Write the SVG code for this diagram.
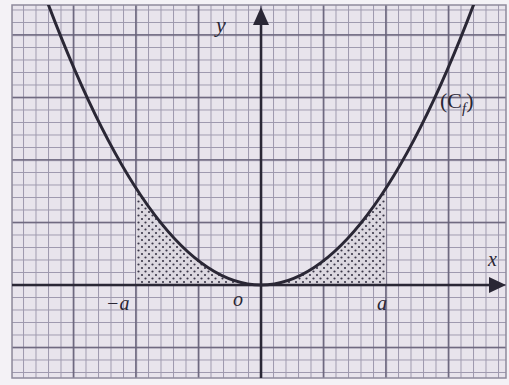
<svg xmlns="http://www.w3.org/2000/svg" width="509" height="385" viewBox="0 0 509 385">
<defs>
<style>
.minor{stroke:#9e99ae;stroke-width:1}
.major{stroke:#676279;stroke-width:1.6}
.axis{stroke:#2a2735;stroke-width:2.5;fill:none}
.curve{stroke:#2a2735;stroke-width:3;fill:none}
.lbl{font-family:"Liberation Serif",serif;font-style:italic;fill:#2a2735}
.up{font-style:normal}
</style>
<pattern id="minorX" x="10.5" y="0" width="12.5" height="385" patternUnits="userSpaceOnUse"><line x1="0.5" y1="0" x2="0.5" y2="385" class="minor"/></pattern>
<pattern id="minorY" x="0" y="9.5" width="509" height="12.5" patternUnits="userSpaceOnUse"><line x1="0" y1="0.5" x2="509" y2="0.5" class="minor"/></pattern>
<pattern id="majorX" x="10.2" y="0" width="62.5" height="385" patternUnits="userSpaceOnUse"><line x1="0.8" y1="0" x2="0.8" y2="385" class="major"/></pattern>
<pattern id="majorY" x="0" y="34.2" width="509" height="62.5" patternUnits="userSpaceOnUse"><line x1="0" y1="0.8" x2="509" y2="0.8" class="major"/></pattern>
<pattern id="dots" width="7" height="7" patternUnits="userSpaceOnUse"><circle cx="2" cy="2" r="1.1" fill="#3a3648"/><circle cx="5.5" cy="5.5" r="1.1" fill="#3a3648"/></pattern>
<clipPath id="frame"><rect x="12" y="5" width="494" height="373"/></clipPath>
</defs>
<rect width="509" height="385" fill="#f4f2f6"/>
<g id="paper" clip-path="url(#frame)">
<rect x="12" y="5" width="494" height="373" fill="#e8e4ec"/>
<rect x="12" y="5" width="494" height="373" fill="url(#minorX)"/>
<rect x="12" y="5" width="494" height="373" fill="url(#minorY)"/>
<rect x="12" y="5" width="494" height="373" fill="url(#majorX)"/>
<rect x="12" y="5" width="494" height="373" fill="url(#majorY)"/>
</g>
<rect x="12" y="5" width="494" height="373" fill="none" stroke="#8e8a9c" stroke-width="1.5"/>
<g id="shaded">
<path d="M136,285 L136,188.1 Q198.5,285 261,285 Z" fill="#dcd8e0"/>
<path d="M136,285 L136,188.1 Q198.5,285 261,285 Z" fill="url(#dots)"/>
<path d="M261,285 Q323.5,285 386,188.1 L386,285 Z" fill="#dcd8e0"/>
<path d="M261,285 Q323.5,285 386,188.1 L386,285 Z" fill="url(#dots)"/>
</g>
<g id="connectors">
<line class="axis" x1="12" y1="285" x2="492" y2="285"/>
<polygon points="506,285 489,277 489,293" fill="#2a2735"/>
<line class="axis" x1="261" y1="378" x2="261" y2="22"/>
<polygon points="261,7 253,25 269,25" fill="#2a2735"/>
</g>
<g id="curve" clip-path="url(#frame)">
<path class="curve" d="M46,-1.6 Q261,571.6 476,-1.6"/>
</g>
<g id="labels">
<text class="lbl" x="216" y="32" font-size="22">y</text>
<text class="lbl" x="488" y="266" font-size="20">x</text>
<text class="lbl" x="106" y="310" font-size="20">−a</text>
<text class="lbl" x="233" y="306" font-size="20">o</text>
<text class="lbl" x="377" y="310" font-size="20">a</text>
<text class="lbl up" x="440" y="108" font-size="22">(C<tspan class="lbl" font-size="15" dy="5">f</tspan><tspan class="up" dy="-5">)</tspan></text>
</g>
</svg>
